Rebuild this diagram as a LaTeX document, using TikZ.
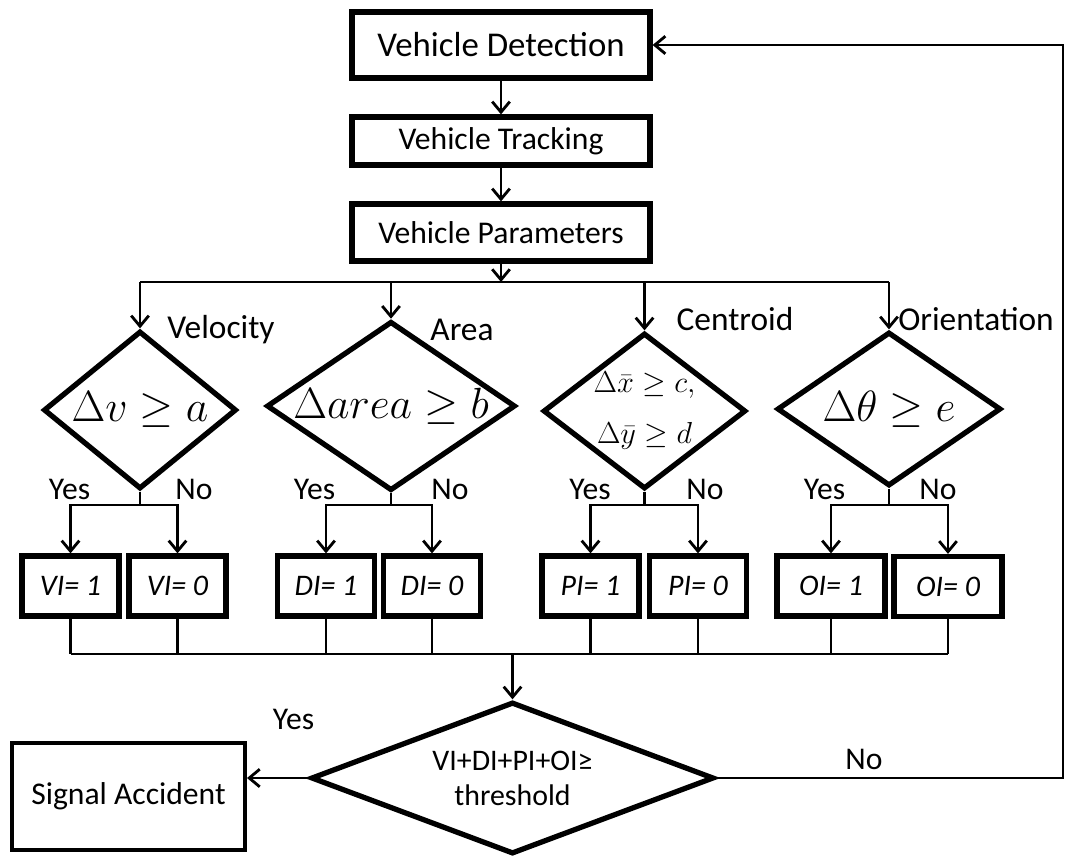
\documentclass[tikz,border=0pt]{standalone}
\usepackage{fontspec}
\setmainfont{Carlito}
\usepackage{amsmath}
\usetikzlibrary{shapes.geometric, arrows.meta, positioning, calc}

\begin{document}
\begin{tikzpicture}[
    x=0.02cm, y=-0.02cm,
    every node/.style={font=\fontsize{18}{21}\selectfont},
    proc/.style={draw, line width=3pt, minimum width=5.96cm, align=center},
    flag/.style={draw, line width=3pt, minimum height=1.2cm, font=\fontsize{17}{20}\selectfont\itshape},
    cond/.style={diamond, draw, line width=3pt, inner sep=0pt, align=center},
    lbl/.style={font=\fontsize{19}{22}\selectfont},
    conn/.style={line width=1.6pt, -{Straight Barb[length=6pt, width=10pt]}},
    wire/.style={line width=1.6pt},
    thin wire/.style={line width=1.2pt}
]
\useasboundingbox (0,0) rectangle (1065,856);

% Main chain
\node[proc, minimum height=1.32cm, font=\fontsize{19.8}{23}\selectfont] (det) at (501,45) {Vehicle Detection};
\node[proc, minimum height=0.96cm] (trk) at (501,141) {Vehicle Tracking};
\node[proc, minimum height=1.14cm] (par) at (501,232.5) {Vehicle Parameters};

% Parameter tests
\node[cond, minimum width=3.86cm, minimum height=3.16cm, aspect=1.2,
      font=\fontsize{23}{26}\selectfont] (vel) at (140,410) {$\Delta v \geq a$};
\node[cond, minimum width=4.92cm, minimum height=3.32cm, aspect=1.47,
      font=\fontsize{23}{26}\selectfont] (ara) at (391,406) {$\Delta area \geq b$};
\node[cond, minimum width=4.02cm, minimum height=3.08cm, aspect=1.3,
      font=\fontsize{16}{29}\selectfont] (cen) at (644.5,411) {$\Delta\bar{x} \geq c,$\\$\Delta\bar{y} \geq d$};
\node[cond, minimum width=4.48cm, minimum height=3.08cm, aspect=1.44,
      font=\fontsize{24}{27}\selectfont] (ori) at (889,409) {$\Delta\theta \geq e$};

\node[lbl] (lvel) at (221,330) {Velocity};
\node[lbl] (lara) at (462,330) {Area};
\node[lbl] (lcen) at (735,319) {Centroid};
\node[lbl] (lori) at (976,319) {Orientation};

% Yes / No answers
\node (yvel) at (69.5,489) {Yes};  \node (nvel) at (194,489) {No};
\node (yara) at (314.5,489) {Yes}; \node (nara) at (450,489) {No};
\node (ycen) at (590,489) {Yes};   \node (ncen) at (705,489) {No};
\node (yori) at (824.5,489) {Yes}; \node (nori) at (938,489) {No};

% Indicator flags
\node[flag, minimum width=1.94cm] (vi1) at (70.5,586) {VI= 1};
\node[flag, minimum width=1.94cm] (vi0) at (177.5,586) {VI= 0};
\node[flag, minimum width=1.94cm] (di1) at (326,586) {DI= 1};
\node[flag, minimum width=1.94cm] (di0) at (432,586) {DI= 0};
\node[flag, minimum width=1.94cm] (pi1) at (590.5,586) {PI= 1};
\node[flag, minimum width=1.94cm] (pi0) at (698,586) {PI= 0};
\node[flag, minimum width=2.16cm] (oi1) at (831,586) {OI= 1};
\node[flag, minimum width=2.16cm] (oi0) at (948,586.5) {OI= 0};

% Final decision
\node[cond, minimum width=8.06cm, minimum height=3.04cm, aspect=2.6,
      font=\fontsize{17}{20}\selectfont] (fin) at (512.5,778) {VI+DI+PI+OI≥\\threshold};
\node[draw, line width=2.3pt, minimum width=4.66cm, minimum height=2.14cm] (sig) at (128.5,796.5) {Signal Accident};
\node (yfin) at (293.5,719) {Yes};
\node (nfin) at (864,759) {No};

% Connectors
\coordinate (top) at (0,282);
\coordinate (mid) at (0,505);
\coordinate (low) at (0,654);
\coordinate (rim) at (1063,0);

\draw[conn] (det) -- (trk);
\draw[conn] (trk) -- (par);
\draw[conn] (par) -- (par |- top);
\draw[wire] (vel.north |- top) -- (ori.north |- top);
\foreach \t in {vel, ara, cen, ori} { \draw[conn] (\t.north |- top) -- (\t.north); }

\foreach \t/\a/\b in {vel/vi1/vi0, ara/di1/di0, cen/pi1/pi0, ori/oi1/oi0} {
    \draw[wire] (\t.south) -- (\t.south |- mid);
    \draw[conn] (\t.south |- mid) -| (\a.north);
    \draw[conn] (\t.south |- mid) -| (\b.north);
}

\foreach \f in {vi1, vi0, di1, di0, pi1, pi0, oi1, oi0} { \draw[thin wire] (\f.south) -- (\f.south |- low); }
\draw[thin wire] (vi1.south |- low) -- (oi0.south |- low);
\draw[conn] (fin.north |- low) -- (fin.north);

\draw[conn] (fin.west) -- (fin.west -| sig.east);
\draw[conn] (fin.east) -- (fin.east -| rim) |- (det.east);
\end{tikzpicture}
\end{document}
